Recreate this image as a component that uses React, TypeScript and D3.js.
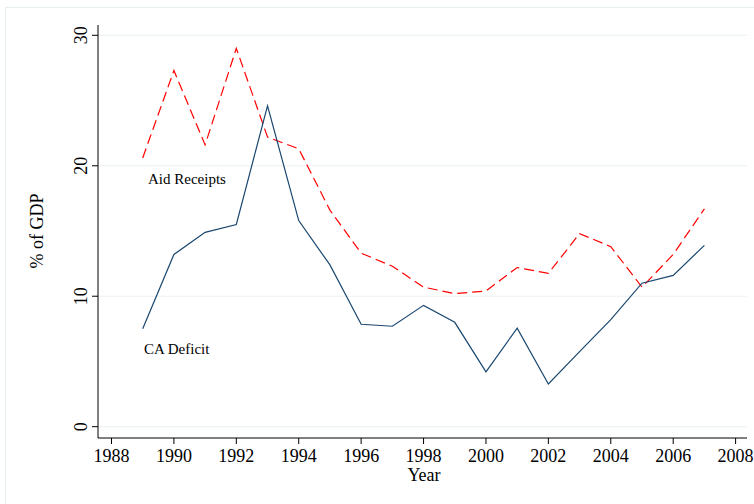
import React, { useEffect, useRef } from 'react';
import * as d3 from 'd3';

const years = [1989, 1990, 1991, 1992, 1993, 1994, 1995, 1996, 1997, 1998, 1999, 2000, 2001, 2002, 2003, 2004, 2005, 2006, 2007];
const aidReceipts = [20.6, 27.3, 21.6, 29.0, 22.2, 21.3, 16.6, 13.3, 12.3, 10.7, 10.2, 10.4, 12.2, 11.75, 14.8, 13.8, 10.7, 13.2, 16.7];
const caDeficit = [7.5, 13.2, 14.9, 15.5, 24.6, 15.8, 12.4, 7.85, 7.7, 9.3, 8.0, 4.2, 7.55, 3.27, 5.75, 8.2, 11.0, 11.6, 13.9];
const xTicks = [1988, 1990, 1992, 1994, 1996, 1998, 2000, 2002, 2004, 2006, 2008];
const yTicks = [0, 10, 20, 30];

const W = 754;
const H = 504;
const FONT = '"Liberation Serif", "Times New Roman", serif';

const App = () => {
  const ref = useRef(null);

  useEffect(() => {
    const svg = d3.select(ref.current)
      .attr('width', W)
      .attr('height', H);

    svg.selectAll('*').remove();

    // outer graph region frame
    svg.append('rect')
      .attr('x', 5.5).attr('y', 7.5)
      .attr('width', 900).attr('height', 600)
      .attr('fill', 'white')
      .attr('stroke', '#e6eef0');

    const axisX = 98;
    const axisY = 438;
    const right = 747;
    const top = 25;

    const x = d3.scaleLinear().domain([1988, 2008]).range([111.5, 735.6]);
    const y = d3.scaleLinear().domain([0, 30]).range([426.7, 35.3]);

    // gridlines
    svg.append('g')
      .selectAll('line')
      .data(yTicks)
      .enter()
      .append('line')
      .attr('x1', axisX).attr('x2', right)
      .attr('y1', d => y(d)).attr('y2', d => y(d))
      .attr('stroke', '#eaf2f3')
      .attr('stroke-width', 1);

    // y axis
    svg.append('line')
      .attr('x1', axisX).attr('x2', axisX)
      .attr('y1', top).attr('y2', axisY)
      .attr('stroke', '#000').attr('stroke-width', 1);

    const yg = svg.append('g');
    yg.selectAll('line')
      .data(yTicks)
      .enter()
      .append('line')
      .attr('x1', axisX - 6).attr('x2', axisX)
      .attr('y1', d => y(d)).attr('y2', d => y(d))
      .attr('stroke', '#000');
    yg.selectAll('text')
      .data(yTicks)
      .enter()
      .append('text')
      .attr('transform', d => `translate(${axisX - 11},${y(d)}) rotate(-90)`)
      .attr('text-anchor', 'middle')
      .attr('font-family', FONT)
      .attr('font-size', 18)
      .text(d => d);

    // x axis
    svg.append('line')
      .attr('x1', axisX).attr('x2', right)
      .attr('y1', axisY).attr('y2', axisY)
      .attr('stroke', '#000').attr('stroke-width', 1);

    const xg = svg.append('g');
    xg.selectAll('line')
      .data(xTicks)
      .enter()
      .append('line')
      .attr('x1', d => x(d)).attr('x2', d => x(d))
      .attr('y1', axisY).attr('y2', axisY + 6)
      .attr('stroke', '#000');
    xg.selectAll('text')
      .data(xTicks)
      .enter()
      .append('text')
      .attr('x', d => x(d))
      .attr('y', axisY + 24)
      .attr('text-anchor', 'middle')
      .attr('font-family', FONT)
      .attr('font-size', 18)
      .text(d => d);

    // axis titles
    svg.append('text')
      .attr('x', 424).attr('y', 481)
      .attr('text-anchor', 'middle')
      .attr('font-family', FONT)
      .attr('font-size', 18)
      .text('Year');
    svg.append('text')
      .attr('transform', `translate(43,${y(15)}) rotate(-90)`)
      .attr('text-anchor', 'middle')
      .attr('font-family', FONT)
      .attr('font-size', 18)
      .text('% of GDP');

    // lines
    const line = d3.line()
      .x(d => x(d[0]))
      .y(d => y(d[1]));

    svg.append('path')
      .datum(years.map((yr, i) => [yr, aidReceipts[i]]))
      .attr('d', line)
      .attr('fill', 'none')
      .attr('stroke', '#ff0000')
      .attr('stroke-width', 1.2)
      .attr('stroke-dasharray', '10,5');

    svg.append('path')
      .datum(years.map((yr, i) => [yr, caDeficit[i]]))
      .attr('d', line)
      .attr('fill', 'none')
      .attr('stroke', '#1a476f')
      .attr('stroke-width', 1.2);

    // in-plot labels
    svg.append('text')
      .attr('x', 148).attr('y', 184)
      .attr('font-family', FONT)
      .attr('font-size', 15)
      .text('Aid Receipts');
    svg.append('text')
      .attr('x', 144).attr('y', 354)
      .attr('font-family', FONT)
      .attr('font-size', 15)
      .text('CA Deficit');
  }, []);

  return <svg ref={ref} style={{ position: 'absolute', left: 0, top: 0 }}></svg>;
};

export default App;
